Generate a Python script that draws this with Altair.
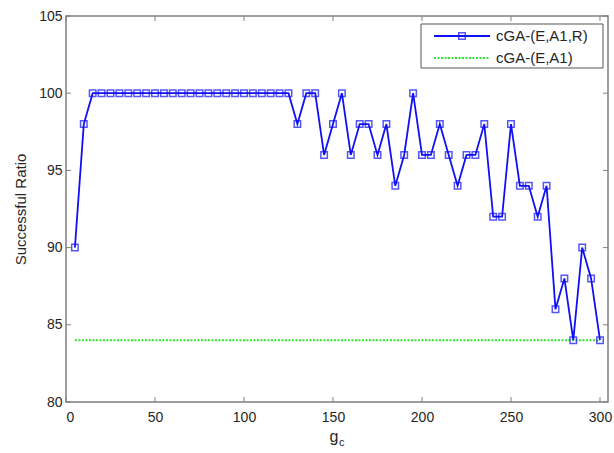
import altair as alt
import pandas as pd

# ---- data ----
gc = list(range(5, 305, 5))
ratio = [90, 98,
         100, 100, 100, 100, 100, 100, 100, 100, 100, 100, 100, 100,
         100, 100, 100, 100, 100, 100, 100, 100, 100, 100, 100,
         98, 100, 100, 96, 98, 100, 96, 98, 98, 96,
         98, 94, 96, 100, 96, 96, 98, 96, 94, 96,
         96, 98, 92, 92, 98, 94, 94, 92, 94, 86,
         88, 84, 90, 88, 84]
base_gc = [5, 300]
base_ratio = [84, 84]
series_names = ["cGA-(E,A1,R)", "cGA-(E,A1)"]
x_ticks = [0, 50, 100, 150, 200, 250, 300]
y_ticks = [80, 85, 90, 95, 100, 105]

W, H = 542, 386
FONT = "Liberation Sans"
GRAY = "#7f7f7f"
TXT = "#262626"
BLUE = "#1010f5"
GREEN = "#33e033"

df = pd.DataFrame({"gc": gc, "ratio": ratio})
dfb = pd.DataFrame({"gc": base_gc, "ratio": base_ratio})
one = pd.DataFrame({"k": [0]})

xs = alt.Scale(domain=[0, 304.5], nice=False, zero=False)
ys = alt.Scale(domain=[80, 105], nice=False, zero=False)
xaxis = alt.Axis(values=x_ticks, tickSize=0, domain=False, grid=False,
                 labelFontSize=14, labelPadding=8, labelColor=TXT,
                 labelFont=FONT, title=None)
yaxis = alt.Axis(values=y_ticks, tickSize=0, domain=False, grid=False,
                 labelFontSize=14, labelPadding=4, labelColor=TXT,
                 labelFont=FONT, title="Successful Ratio", titleFont=FONT,
                 titleFontSize=15, titleFontWeight="normal", titleColor=TXT,
                 titlePadding=10)

X = alt.X("gc:Q", scale=xs, axis=xaxis)
Y = alt.Y("ratio:Q", scale=ys, axis=yaxis)

base_line = alt.Chart(dfb).mark_line(color=GREEN, strokeWidth=1.8,
                                      strokeDash=[2, 1.5]).encode(x=X, y=Y)
main_line = alt.Chart(df).mark_line(color=BLUE, strokeWidth=1.8).encode(x=X, y=Y)
main_pts = alt.Chart(df).mark_point(shape="square", color=BLUE, filled=False,
                                     size=42, strokeWidth=1.5).encode(x=X, y=Y)

tx = pd.DataFrame({"gc": x_ticks})
ty = pd.DataFrame({"ratio": y_ticks})
tick_b = alt.Chart(tx).mark_rule(color=GRAY).encode(x=X, y=alt.value(H), y2=alt.value(H - 5))
tick_t = alt.Chart(tx).mark_rule(color=GRAY).encode(x=X, y=alt.value(0), y2=alt.value(5))
tick_l = alt.Chart(ty).mark_rule(color=GRAY).encode(y=Y, x=alt.value(0), x2=alt.value(5))
tick_r = alt.Chart(ty).mark_rule(color=GRAY).encode(y=Y, x=alt.value(W), x2=alt.value(W - 5))

# x title g_c
g_txt = alt.Chart(one).mark_text(font=FONT, fontSize=16, color=TXT,
                                 align="center", baseline="middle").encode(
    x=alt.value(268), y=alt.value(421), text=alt.value("g"))
c_txt = alt.Chart(one).mark_text(font=FONT, fontSize=11, color=TXT,
                                 align="left", baseline="middle").encode(
    x=alt.value(273), y=alt.value(427), text=alt.value("c"))

# legend
leg_box = alt.Chart(one).mark_rect(fill="white", stroke="#555555", strokeWidth=1).encode(
    x=alt.value(355), x2=alt.value(537), y=alt.value(8), y2=alt.value(52))
leg_l1 = alt.Chart(one).mark_rule(color=BLUE, strokeWidth=1.8).encode(
    x=alt.value(368), x2=alt.value(424), y=alt.value(20))
leg_p1 = alt.Chart(one).mark_point(shape="square", color=BLUE, filled=False,
                                    size=42, strokeWidth=1.5).encode(
    x=alt.value(396), y=alt.value(20))
leg_l2 = alt.Chart(one).mark_rule(color=GREEN, strokeWidth=1.8, strokeDash=[2, 1.5]).encode(
    x=alt.value(368), x2=alt.value(424), y=alt.value(42))
leg_t1 = alt.Chart(one).mark_text(font=FONT, fontSize=15, color=TXT,
                                  align="left", baseline="middle").encode(
    x=alt.value(430), y=alt.value(20), text=alt.value(series_names[0]))
leg_t2 = alt.Chart(one).mark_text(font=FONT, fontSize=15, color=TXT,
                                  align="left", baseline="middle").encode(
    x=alt.value(430), y=alt.value(42), text=alt.value(series_names[1]))

chart = alt.layer(
    base_line, main_line, main_pts, tick_b, tick_t, tick_l, tick_r,
    g_txt, c_txt, leg_box, leg_l1, leg_p1, leg_l2, leg_t1, leg_t2
).properties(
    width=W, height=H,
    autosize=alt.AutoSizeParams(type="none"),
    padding={"left": 66, "top": 16, "right": 6, "bottom": 51},
    background="white",
).configure_view(stroke=GRAY, strokeWidth=1.5)

chart.save("out.html", embed_options={"renderer": "svg", "actions": False})
